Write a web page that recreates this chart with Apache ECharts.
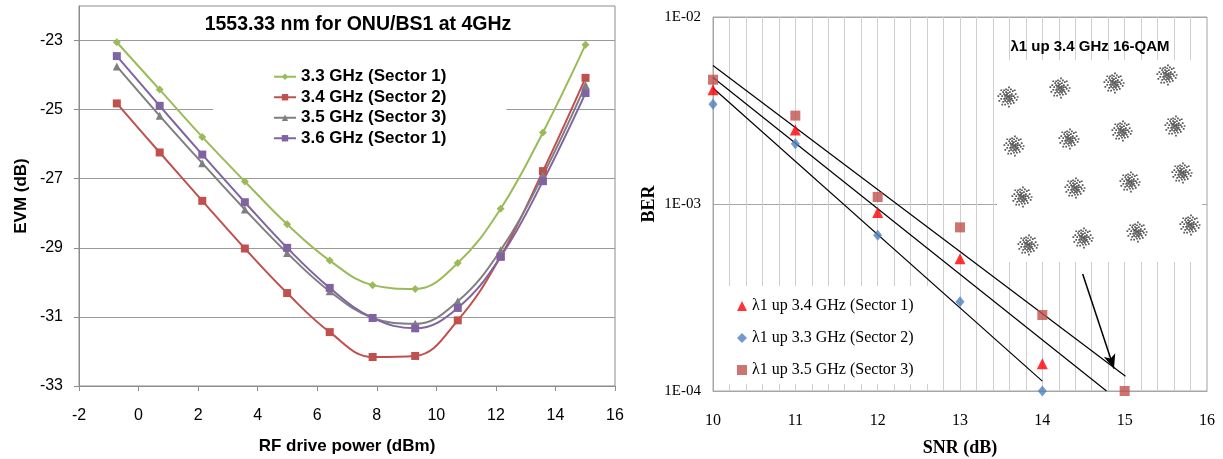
<!DOCTYPE html>
<html>
<head>
<meta charset="utf-8">
<script src="https://cdn.jsdelivr.net/npm/echarts@6/dist/echarts.min.js"></script>
<style>
html, body { margin: 0; padding: 0; background: #fff; }
#chart { width: 1223px; height: 459px; }
</style>
</head>
<body>
<div id="chart"></div>
<script>
// Left: EVM vs RF drive power
const powerDbm = [-0.73, 0.71, 2.14, 3.57, 4.99, 6.42, 7.86, 9.29, 10.72, 12.16, 13.58, 15.01];
const evm33 = [-23.05, -24.42, -25.79, -27.08, -28.32, -29.37, -30.08, -30.19, -29.44, -27.87, -25.66, -23.12];
const evm34 = [-24.82, -26.24, -27.64, -29.02, -30.31, -31.44, -32.16, -32.13, -31.10, -29.25, -26.78, -24.08];
const evm35 = [-23.75, -25.18, -26.55, -27.89, -29.15, -30.26, -31.03, -31.20, -30.55, -29.07, -26.90, -24.29];
const evm36 = [-23.45, -24.89, -26.30, -27.68, -29.00, -30.16, -31.03, -31.33, -30.74, -29.26, -27.07, -24.52];
const evmTicks = [-33, -31, -29, -27, -25, -23];

// Right: BER vs SNR
const snr = [10, 11, 12, 13, 14, 15];
const berSector1 = [4.08e-3, 2.49e-3, 9.0e-4, 5.1e-4, 1.4e-4];
const berSector2 = [3.42e-3, 2.10e-3, 6.8e-4, 3.0e-4, 1.0e-4];
const berSector3 = [4.62e-3, 2.97e-3, 1.09e-3, 7.5e-4, 2.55e-4, 1.0e-4];
const fitSector3 = [[10, 5.51e-3], [15.01, 1.2e-4]];
const fitSector1 = [[10, 4.75e-3], [14.78, 1.0e-4]];
const fitSector2 = [[10, 4.17e-3], [14.0, 1.13e-4]];
const arrowFrom = [14.49, 4.22e-4];
const arrowTo = [14.87, 1.32e-4];

// 16-QAM inset, cluster centres (inset px units)
const constI = [11, 63, 117, 170, 17, 72, 125, 178, 25, 78, 133, 185, 31, 86, 140, 193];
const constQ = [37, 28, 23, 15, 86, 79, 71, 66, 137, 128, 122, 113, 185, 178, 172, 165];

const SANS = '"Liberation Sans", Arial, sans-serif';
const SERIF = '"Liberation Serif", "Times New Roman", serif';

// dotted cloud glyph for each constellation cluster
const cloudDots = [[10,10],[8,9],[12,9],[9,12],[11,12],[7,11],[13,11],[10,7],[10,14],[6,8],[14,8],[8,6],[12,6],
  [6,13],[14,13],[9,16],[12,16],[4,10],[16,10],[10,4],[10,18],[5,6],[15,5],[5,16],[15,15],[8,3],[13,3],[3,13],
  [17,12],[7,19],[13,18],[11,10],[9,10],[8,13],[12,13],[7,15],[13,14],[2,8],[18,8],[16,17],[11,1],[1,15],[19,14],
  [6,4],[20,11],[0,10],[11,21],[17,4],[3,4],[4,19],[9,8],[11,15],[14,10],[7,9],[12,11]];
const cloudSymbol = 'path://' + cloudDots.map(d => `M${d[0]} ${d[1]}h1.8v1.8h-1.8z`).join('');

const pair = (xs, ys) => ys.map((y, i) => [xs[i], y]);

const leftLine = (name, ys, color, symbol, size) => ({
  name: name, type: 'line', xAxisIndex: 0, yAxisIndex: 0,
  data: pair(powerDbm, ys), smooth: 0.4,
  symbol: symbol, symbolSize: size, showAllSymbol: true,
  lineStyle: { width: 2, color: color }, itemStyle: { color: color }
});

const fitLine = (data) => ({
  type: 'line', xAxisIndex: 1, yAxisIndex: 1, data: data, symbol: 'none', silent: true,
  lineStyle: { color: '#000', width: 1.2 }, z: 3
});

const myChart = echarts.init(document.getElementById('chart'));
const option = {
  animation: false,
  title: [
    { text: '1553.33 nm for ONU/BS1 at 4GHz', left: 358, top: 25, padding: 0,
      textAlign: 'center', textVerticalAlign: 'middle',
      textStyle: { fontFamily: SANS, fontSize: 19.5, fontWeight: 'bold', color: '#000' } },
    { text: 'λ1 up 3.4 GHz 16-QAM', left: 1090, top: 47, padding: 0, z: 5,
      textAlign: 'center', textVerticalAlign: 'middle',
      textStyle: { fontFamily: SANS, fontSize: 15, fontWeight: 'bold', color: '#000' } }
  ],
  legend: [
    { data: ['3.3 GHz (Sector 1)', '3.4 GHz (Sector 2)', '3.5 GHz (Sector 3)', '3.6 GHz (Sector 1)'],
      orient: 'vertical', left: 213, top: 62, padding: [5, 60, 5, 60], backgroundColor: '#fff', z: 1,
      itemWidth: 22, itemHeight: 8, itemGap: 1, selectedMode: false,
      textStyle: { fontFamily: SANS, fontSize: 17, fontWeight: 'bold', lineHeight: 19.5, color: '#000' } },
    { data: ['λ1 up 3.4 GHz (Sector 1)', 'λ1 up 3.3 GHz (Sector 2)', 'λ1 up 3.5 GHz (Sector 3)'],
      orient: 'vertical', left: 714, top: 286, padding: [9, 24, 3, 23], backgroundColor: '#fff', z: 1,
      itemWidth: 10, itemHeight: 10, itemGap: 10, selectedMode: false,
      textStyle: { fontFamily: SERIF, fontSize: 16, lineHeight: 22, color: '#000' } }
  ],
  grid: [
    { left: 79, top: 6, width: 536, height: 380, show: true, borderColor: '#8c8c8c', borderWidth: 1,
      outerBoundsMode: 'none' },
    { left: 713, top: 17, width: 494, height: 374, show: true, borderColor: '#a6a6a6', borderWidth: 1,
      outerBoundsMode: 'none' },
    { left: 997, top: 60, width: 205, height: 202, show: true, backgroundColor: '#fff', borderWidth: 0, z: 1,
      outerBoundsMode: 'none' }
  ],
  xAxis: [
    { type: 'value', gridIndex: 0, min: -2, max: 16, interval: 2,
      axisLine: { show: true, onZero: false, lineStyle: { color: '#8c8c8c' } },
      axisTick: { show: true, length: 5, lineStyle: { color: '#8c8c8c' } },
      axisLabel: { fontFamily: SANS, fontSize: 16, color: '#000', margin: 22 },
      splitLine: { show: false },
      name: 'RF drive power (dBm)', nameLocation: 'middle', nameGap: 52,
      nameTextStyle: { fontFamily: SANS, fontSize: 17, fontWeight: 'bold', color: '#000' } },
    { type: 'value', gridIndex: 1, min: 10, max: 16, interval: 1,
      axisLine: { show: true, onZero: false, lineStyle: { color: '#a6a6a6' } },
      axisTick: { show: false },
      axisLabel: { fontFamily: SERIF, fontSize: 16, color: '#000', margin: 22 },
      splitLine: { show: true, lineStyle: { color: '#cfcfcf' } },
      minorTick: { show: false, splitNumber: 5 },
      minorSplitLine: { show: true, lineStyle: { color: '#cfcfcf' } },
      name: 'SNR (dB)', nameLocation: 'middle', nameGap: 48,
      nameTextStyle: { fontFamily: SERIF, fontSize: 18, fontWeight: 'bold', color: '#000' } },
    { type: 'value', gridIndex: 2, min: 0, max: 205, show: false }
  ],
  yAxis: [
    { type: 'value', gridIndex: 0, min: -33, max: -22,
      axisLine: { show: true, onZero: false, lineStyle: { color: '#8c8c8c' } },
      axisTick: { show: true, length: 5, customValues: evmTicks, lineStyle: { color: '#8c8c8c' } },
      axisLabel: { customValues: evmTicks, fontFamily: SANS, fontSize: 16, color: '#000', margin: 16 },
      splitLine: { show: true, lineStyle: { color: '#9a9a9a' } },
      name: 'EVM (dB)', nameLocation: 'middle', nameGap: 49, nameRotate: 90,
      nameTextStyle: { fontFamily: SANS, fontSize: 17, fontWeight: 'bold', color: '#000' } },
    { type: 'log', logBase: 10, gridIndex: 1, min: 1e-4, max: 1e-2,
      axisLine: { show: true, onZero: false, lineStyle: { color: '#a6a6a6' } },
      axisTick: { show: false },
      axisLabel: { fontFamily: SERIF, fontSize: 15, color: '#000', margin: 12,
        formatter: v => '1E-' + String(-Math.round(Math.log10(v))).padStart(2, '0') },
      splitLine: { show: true, lineStyle: { color: '#a6a6a6' } },
      name: 'BER', nameLocation: 'middle', nameGap: 55, nameRotate: 90,
      nameTextStyle: { fontFamily: SERIF, fontSize: 18, fontWeight: 'bold', color: '#000' } },
    { type: 'value', gridIndex: 2, min: 0, max: 202, inverse: true, show: false }
  ],
  series: [
    leftLine('3.3 GHz (Sector 1)', evm33, '#9bbb59', 'diamond', 8),
    leftLine('3.4 GHz (Sector 2)', evm34, '#c0504d', 'rect', 8),
    leftLine('3.5 GHz (Sector 3)', evm35, '#7f7f7f', 'triangle', 8),
    leftLine('3.6 GHz (Sector 1)', evm36, '#8064a2', 'rect', 8),

    fitLine(fitSector3),
    fitLine(fitSector1),
    Object.assign(fitLine(fitSector2), {
      markLine: {
        silent: true, symbol: ['none', 'arrow'], symbolSize: [9, 14],
        label: { show: false },
        lineStyle: { color: '#000', width: 1.5, type: 'solid' },
        data: [[{ coord: arrowFrom }, { coord: arrowTo }]]
      }
    }),
    { name: 'λ1 up 3.5 GHz (Sector 3)', type: 'scatter', xAxisIndex: 1, yAxisIndex: 1,
      data: pair(snr, berSector3), symbol: 'rect', symbolSize: 10, itemStyle: { color: '#c0504d' }, z: 4 },
    { name: 'λ1 up 3.3 GHz (Sector 2)', type: 'scatter', xAxisIndex: 1, yAxisIndex: 1,
      data: pair(snr, berSector2), symbol: 'diamond', symbolSize: [9, 11], itemStyle: { color: '#4f81bd' }, z: 4 },
    { name: 'λ1 up 3.4 GHz (Sector 1)', type: 'scatter', xAxisIndex: 1, yAxisIndex: 1,
      data: pair(snr, berSector1), symbol: 'triangle', symbolSize: 11, itemStyle: { color: '#ff0000' }, z: 4 },

    { type: 'scatter', xAxisIndex: 2, yAxisIndex: 2, silent: true,
      data: pair(constI, constQ), symbol: cloudSymbol, symbolSize: 21,
      itemStyle: { color: '#2e2e2e' } }
  ]
};
myChart.setOption(option);
</script>
</body>
</html>
